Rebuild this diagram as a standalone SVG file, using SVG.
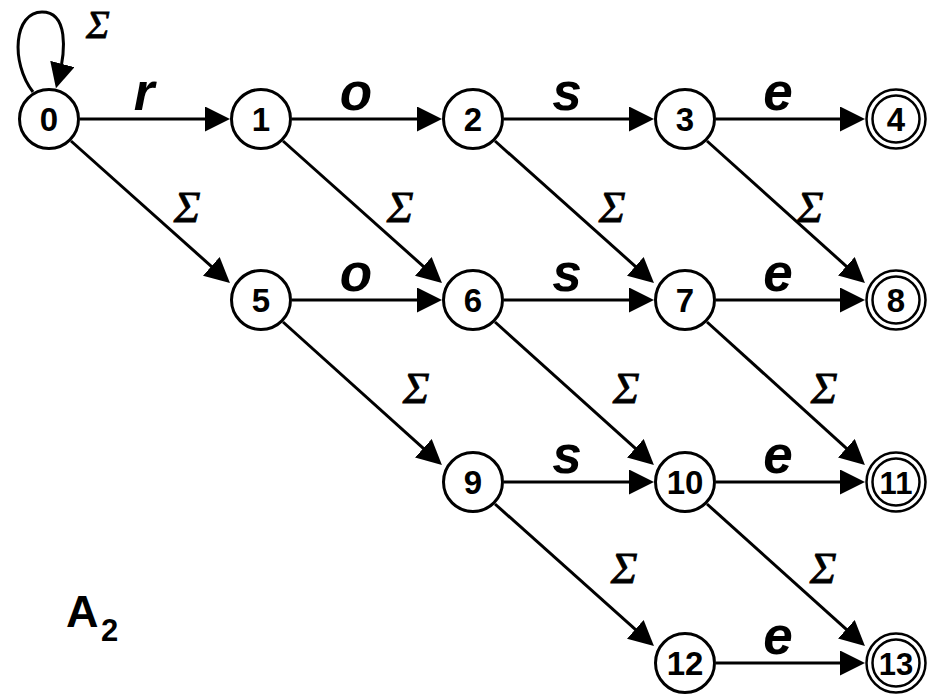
<svg xmlns="http://www.w3.org/2000/svg" width="927" height="694" viewBox="0 0 927 694">
<style>
.n{fill:#fff;stroke:#000;stroke-width:3}
.d{fill:none;stroke:#000;stroke-width:2.5}
.t{font-family:"Liberation Sans",Arial,sans-serif;font-weight:bold;font-size:33px;text-anchor:middle;fill:#000}
.e{fill:none;stroke:#000;stroke-width:3}
.l{font-family:"Liberation Sans",Arial,sans-serif;font-weight:bold;font-style:italic;font-size:53px;text-anchor:middle;fill:#000}
.s{font-family:"Liberation Serif","Times New Roman",serif;font-style:italic;font-size:45px;text-anchor:middle;fill:#000;stroke:#000;stroke-width:0.8}
</style>
<defs>
<marker id="a" markerUnits="userSpaceOnUse" markerWidth="26" markerHeight="26" refX="15" refY="12.5" orient="auto" viewBox="0 0 26 26">
<path d="M0,0 L25,12.5 L0,25 z" fill="#000"/>
</marker>
</defs>
<g id="edges">
<path class="e" d="M33 92 C10 62,14 12,42 12 C68 12,66 50,58.5 78.5" marker-end="url(#a)"/>
<line class="e" x1="80" y1="119" x2="220" y2="119" marker-end="url(#a)"/>
<line class="e" x1="292" y1="119" x2="432" y2="119" marker-end="url(#a)"/>
<line class="e" x1="504" y1="119" x2="644" y2="119" marker-end="url(#a)"/>
<line class="e" x1="716" y1="119" x2="855" y2="119" marker-end="url(#a)"/>
<line class="e" x1="292" y1="300" x2="432" y2="300" marker-end="url(#a)"/>
<line class="e" x1="504" y1="300" x2="644" y2="300" marker-end="url(#a)"/>
<line class="e" x1="716" y1="300" x2="855" y2="300" marker-end="url(#a)"/>
<line class="e" x1="504" y1="482" x2="644" y2="482" marker-end="url(#a)"/>
<line class="e" x1="716" y1="482" x2="855" y2="482" marker-end="url(#a)"/>
<line class="e" x1="716" y1="663" x2="855" y2="663" marker-end="url(#a)"/>
<line class="e" x1="71" y1="141" x2="222.5" y2="276.3" marker-end="url(#a)"/>
<line class="e" x1="283" y1="141" x2="434.5" y2="276.3" marker-end="url(#a)"/>
<line class="e" x1="495" y1="141" x2="646.5" y2="276.3" marker-end="url(#a)"/>
<line class="e" x1="707" y1="141" x2="857.5" y2="276.3" marker-end="url(#a)"/>
<line class="e" x1="283" y1="322" x2="434.5" y2="458.3" marker-end="url(#a)"/>
<line class="e" x1="495" y1="322" x2="646.5" y2="458.3" marker-end="url(#a)"/>
<line class="e" x1="707" y1="322" x2="857.5" y2="458.3" marker-end="url(#a)"/>
<line class="e" x1="495" y1="504" x2="646.5" y2="639.3" marker-end="url(#a)"/>
<line class="e" x1="707" y1="504" x2="857.5" y2="639.3" marker-end="url(#a)"/>
<text class="s" x="98" y="38" style="font-size:40px">Σ</text>
<text class="l" x="144" y="110">r</text>
<text class="l" x="356" y="110">o</text>
<text class="l" x="567" y="110">s</text>
<text class="l" x="778" y="110">e</text>
<text class="l" x="356" y="291">o</text>
<text class="l" x="567" y="291">s</text>
<text class="l" x="778" y="291">e</text>
<text class="l" x="567" y="473">s</text>
<text class="l" x="778" y="473">e</text>
<text class="l" x="778" y="654">e</text>
<text class="s" x="187" y="222">Σ</text>
<text class="s" x="400" y="222">Σ</text>
<text class="s" x="612" y="222">Σ</text>
<text class="s" x="810" y="222">Σ</text>
<text class="s" x="416" y="403">Σ</text>
<text class="s" x="626" y="403">Σ</text>
<text class="s" x="824" y="403">Σ</text>
<text class="s" x="624" y="583">Σ</text>
<text class="s" x="823" y="583">Σ</text>
</g>
<g id="n0"><circle class="n" cx="49" cy="119" r="29.5"/><text class="t" x="49" y="131">0</text></g>
<g id="n1"><circle class="n" cx="261" cy="119" r="29.5"/><text class="t" x="261" y="131">1</text></g>
<g id="n2"><circle class="n" cx="473" cy="119" r="29.5"/><text class="t" x="473" y="131">2</text></g>
<g id="n3"><circle class="n" cx="685" cy="119" r="29.5"/><text class="t" x="685" y="131">3</text></g>
<g id="n4"><circle class="d" cx="896" cy="119" r="29.5"/><circle class="d" cx="896" cy="119" r="23.5"/><text class="t" x="896" y="131">4</text></g>
<g id="n5"><circle class="n" cx="261" cy="300" r="29.5"/><text class="t" x="261" y="312">5</text></g>
<g id="n6"><circle class="n" cx="473" cy="300" r="29.5"/><text class="t" x="473" y="312">6</text></g>
<g id="n7"><circle class="n" cx="685" cy="300" r="29.5"/><text class="t" x="685" y="312">7</text></g>
<g id="n8"><circle class="d" cx="896" cy="300" r="29.5"/><circle class="d" cx="896" cy="300" r="23.5"/><text class="t" x="896" y="312">8</text></g>
<g id="n9"><circle class="n" cx="473" cy="482" r="29.5"/><text class="t" x="473" y="494">9</text></g>
<g id="n10"><circle class="n" cx="685" cy="482" r="29.5"/><text class="t" x="685" y="494">10</text></g>
<g id="n11"><circle class="d" cx="896" cy="482" r="29.5"/><circle class="d" cx="896" cy="482" r="23.5"/><text class="t" x="896" y="494" style="font-size:31px">11</text></g>
<g id="n12"><circle class="n" cx="685" cy="663" r="29.5"/><text class="t" x="685" y="675">12</text></g>
<g id="n13"><circle class="d" cx="896" cy="663" r="29.5"/><circle class="d" cx="896" cy="663" r="23.5"/><text class="t" x="896" y="675" style="font-size:31px">13</text></g>
<g id="label"><text class="t" x="66" y="627" style="text-anchor:start;font-size:45px">A</text><text class="t" x="101" y="641" style="text-anchor:start;font-size:31px">2</text></g>
</svg>
